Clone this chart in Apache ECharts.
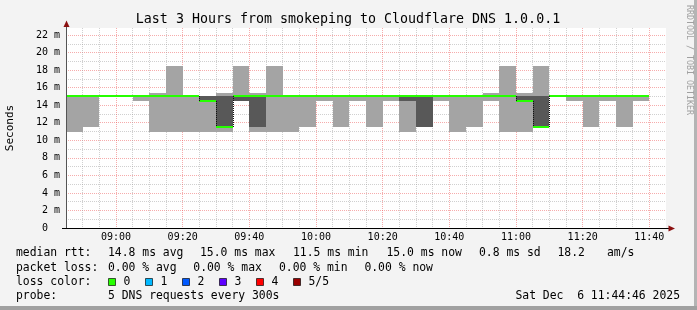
<!DOCTYPE html>
<html>
<head>
<meta charset="utf-8">
<script src="https://cdn.jsdelivr.net/npm/echarts@6/dist/echarts.min.js"></script>
<style>
html,body{margin:0;padding:0;background:#f3f3f3;}
#c{width:697px;height:310px;}
</style>
</head>
<body>
<div id="c"></div>
<script>
// ---- data ----
const titleText = 'Last 3 Hours from smokeping to Cloudflare DNS 1.0.0.1';
const binTimes = ['08:45','08:50','08:55','09:00','09:05','09:10','09:15','09:20','09:25','09:30',
                  '09:35','09:40','09:45','09:50','09:55','10:00','10:05','10:10','10:15','10:20',
                  '10:25','10:30','10:35','10:40','10:45','10:50','10:55','11:00','11:05','11:10',
                  '11:15','11:20','11:25','11:30','11:35'];
// sorted ping rtts per 5-minute bin (ms)
const pingMin    = [11,11.5,15,15,14.5,11,11,11,11,11, 14.5,11,11,11,11.5,14.5,11.5,14.5,11.5,14.5, 11,11.5,14.5,11,11.5,14.5,11,11,11.5,15, 14.5,11.5,14.5,11.5,14.5];
const ping2      = [15,15,15,15,15,15,15,15,14.5,11.5, 14.5,11.5,15,15,15,15,15,15,15,15, 14.5,11.5,15,15,15,15,15,14.5,11.5,15, 15,15,15,15,15];
const pingMedian = [15,15,15,15,15,15,15,15,14.5,11.5, 15,15,15,15,15,15,15,15,15,15, 15,15,15,15,15,15,15,14.5,11.5,15, 15,15,15,15,15];
const ping4      = [15,15,15,15,15,15,15,15,15,15, 15,15,15,15,15,15,15,15,15,15, 15,15,15,15,15,15,15,15,15,15, 15,15,15,15,15];
const pingMax    = [15,15,15,15,15,15.4,18.5,15,15,15.4, 18.5,15.4,18.5,15,15,15,15,15,15,15, 15,15,15,15,15,15.4,18.5,15.4,18.5,15, 15,15,15,15,15];
const binMinutes = 5;
const xStart = '08:45', xEnd = '11:45';
const yMaxValue = 22.8;
const yLabelStep = 2;
const xLabelStep = 20;

const statRow1 = ['median rtt:', '14.8 ms avg', '15.0 ms max', '11.5 ms min', '15.0 ms now', '0.8 ms sd', '18.2', 'am/s'];
const statRow2 = ['packet loss:', '0.00 % avg', '0.00 % max', '0.00 % min', '0.00 % now'];
const lossLabels = ['0', '1', '2', '3', '4', '5/5'];
const lossColors = ['#26ff00', '#00b8ff', '#0059ff', '#5e00ff', '#ff0000', '#990000'];
const probeRow = ['probe:', '5 DNS requests every 300s'];
const dateText = 'Sat Dec  6 11:44:46 2025';
const yAxisName = 'Seconds';
const sideText = 'RRDTOOL / TOBI OETIKER';

// ---- helpers ----
function toMin(s){ const p = s.split(':'); return (+p[0])*60 + (+p[1]); }
function fmtMin(v){ const h = Math.floor(v/60), m = v%60; return (h<10?'0':'')+h+':'+(m<10?'0':'')+m; }

const FONT = '"DejaVu Sans Mono", monospace';
const smokeOuter = '#a4a4a4';
const smokeInner = '#585858';
const minorGrid = 'rgba(150,150,150,0.45)';
const majorGrid = 'rgba(235,70,70,0.45)';

const smokeData = binTimes.map((t, i) => [toMin(t), pingMin[i], ping2[i], pingMedian[i], ping4[i], pingMax[i], i > 0 ? pingMedian[i-1] : pingMedian[i]]);

function renderSmoke(params, api) {
  const t = api.value(0);
  const lo = api.value(1), q2 = api.value(2), med = api.value(3), q4 = api.value(4), hi = api.value(5), prev = api.value(6);
  const x0 = Math.round(api.coord([t, 0])[0]);
  const x1 = Math.round(api.coord([t + binMinutes, 0])[0]);
  const Y = v => Math.round(api.coord([t, v])[1]);
  const children = [];
  if (hi > lo) children.push({type:'rect', shape:{x:x0, y:Y(hi), width:x1-x0, height:Y(lo)-Y(hi)}, style:{fill:smokeOuter}});
  if (q4 > q2) children.push({type:'rect', shape:{x:x0, y:Y(q4), width:x1-x0, height:Y(q2)-Y(q4)}, style:{fill:smokeInner}});
  const ym = api.coord([t, med])[1];
  children.push({type:'rect', shape:{x:x0, y:Math.round(ym)-1, width:x1-x0, height:2}, style:{fill:lossColors[0]}});
  if (prev !== med) {
    children.push({type:'line', shape:{x1:x0+0.5, y1:Y(prev), x2:x0+0.5, y2:Y(med)}, style:{stroke:'#111', lineWidth:1, lineDash:[1,1]}});
  }
  return {type:'group', children};
}

const yColors = [];
for (let v = 0; v <= 22; v++) yColors.push(v % 2 === 0 ? majorGrid : minorGrid);
yColors.push('rgba(0,0,0,0)');

const GL = 66, GT = 28, GW = 600, GH = 200;

const graphics = [];
// title
graphics.push({type:'text', x:348, y:19.5, silent:true, style:{text:titleText, font:'13.3px ' + FONT, fill:'#000', align:'center', verticalAlign:'middle'}});
// y-axis name
graphics.push({type:'text', x:10, y:128, rotation:Math.PI/2, silent:true, style:{text:yAxisName, font:'11px ' + FONT, fill:'#000', align:'center', verticalAlign:'middle'}});
// side text
graphics.push({type:'text', x:689, y:60, rotation:-Math.PI/2, silent:true, style:{text:sideText, font:'8.3px ' + FONT, fill:'#a0a0a0', align:'center', verticalAlign:'middle'}});
// axes lines + arrows
graphics.push({type:'line', silent:true, z:10, shape:{x1:GL+0.5, y1:GT+GH, x2:GL+0.5, y2:25}, style:{stroke:'#555', lineWidth:1}});
graphics.push({type:'polygon', silent:true, z:10, shape:{points:[[GL+0.5,20.5],[GL-2.5,27],[GL+3.5,27]]}, style:{fill:'#8b1010'}});
graphics.push({type:'line', silent:true, z:10, shape:{x1:62, y1:GT+GH+0.5, x2:670, y2:GT+GH+0.5}, style:{stroke:'#000', lineWidth:1}});
graphics.push({type:'polygon', silent:true, z:10, shape:{points:[[675,GT+GH+0.5],[668.5,GT+GH-2.5],[668.5,GT+GH+3.5]]}, style:{fill:'#8b1010'}});
// legend rows
const r1x = [16, 108, 200, 293, 386.5, 479, 557.5, 607];
statRow1.forEach((s, i) => graphics.push({type:'text', x:r1x[i], y:253.5, silent:true, style:{text:s, font:'11.4px ' + FONT, fill:'#000', align:'left', verticalAlign:'middle'}}));
const r2x = [16, 108, 193.3, 279, 364.4];
statRow2.forEach((s, i) => graphics.push({type:'text', x:r2x[i], y:268, silent:true, style:{text:s, font:'11.4px ' + FONT, fill:'#000', align:'left', verticalAlign:'middle'}}));
graphics.push({type:'text', x:16, y:282.3, silent:true, style:{text:'loss color:', font:'11.4px ' + FONT, fill:'#000', align:'left', verticalAlign:'middle'}});
lossLabels.forEach((s, i) => {
  const bx = 108.5 + i*37;
  graphics.push({type:'rect', silent:true, shape:{x:bx, y:278.5, width:7, height:7}, style:{fill:lossColors[i], stroke:'rgba(0,0,0,0.65)', lineWidth:1}});
  graphics.push({type:'text', x:bx+15, y:282.3, silent:true, style:{text:s, font:'11.4px ' + FONT, fill:'#000', align:'left', verticalAlign:'middle'}});
});
graphics.push({type:'text', x:16, y:296.5, silent:true, style:{text:probeRow[0], font:'11.4px ' + FONT, fill:'#000', align:'left', verticalAlign:'middle'}});
graphics.push({type:'text', x:108, y:296.5, silent:true, style:{text:probeRow[1], font:'11.4px ' + FONT, fill:'#000', align:'left', verticalAlign:'middle'}});
graphics.push({type:'text', x:680, y:296.5, silent:true, style:{text:dateText, font:'11.4px ' + FONT, fill:'#000', align:'right', verticalAlign:'middle'}});
// frame
graphics.push({type:'rect', silent:true, shape:{x:694, y:0, width:3, height:310}, style:{fill:'#b4b4b4'}});
graphics.push({type:'rect', silent:true, shape:{x:0, y:306, width:697, height:4}, style:{fill:'#a0a0a0'}});

const chart = echarts.init(document.getElementById('c'), null, {renderer:'canvas'});
chart.setOption({
  backgroundColor: '#f3f3f3',
  animation: false,
  grid: {left:GL, top:GT, width:GW, height:GH, show:true, backgroundColor:'#ffffff', borderWidth:0},
  xAxis: {
    type:'value', min:toMin(xStart), max:toMin(xEnd), interval:binMinutes,
    axisLine:{show:false}, axisTick:{show:false},
    axisLabel:{margin:4, fontFamily:FONT, fontSize:10, color:'#000',
      formatter: v => (v % xLabelStep === 0 ? fmtMin(v) : '')},
    splitLine:{show:true, showMaxLine:false, lineStyle:{width:1, type:[1,1], color:[minorGrid, minorGrid, minorGrid, majorGrid]}}
  },
  yAxis: {
    type:'value', min:0, max:yMaxValue, interval:1,
    axisLine:{show:false}, axisTick:{show:false},
    axisLabel:{margin:6, fontFamily:FONT, fontSize:10, color:'#000',
      formatter: v => (Math.abs(v % yLabelStep) < 1e-9 && v <= 22 ? (v === 0 ? '0\u00a0\u00a0' : v + ' m') : '')},
    splitLine:{show:true, showMaxLine:false, lineStyle:{width:1, type:[1,1], color:yColors}}
  },
  series: [{
    type:'custom', name:'smoke', renderItem:renderSmoke, data:smokeData,
    encode:{x:0, y:[1,5]}, silent:true, clip:true
  }],
  graphic: graphics
});
</script>
</body>
</html>
